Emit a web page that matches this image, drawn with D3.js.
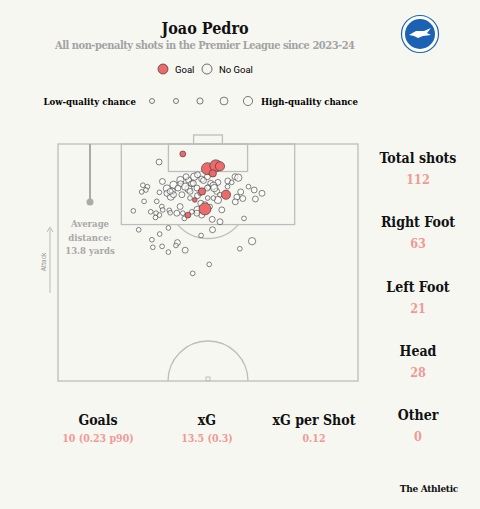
<!DOCTYPE html><html><head><meta charset="utf-8">
<script src="https://cdn.jsdelivr.net/npm/d3@7"></script>
<style>body{margin:0;background:#f7f7f2}</style></head><body>
<svg id="c" width="480" height="509"></svg>
<script>
// shots: [x (0-100 across pitch), y (0-50 distance from goal line, half pitch), xG]
const goals = [[41.6,2.1,0.05],[49.8,5.2,0.4],[52.6,4.6,0.4],[54.0,4.7,0.2],[51.6,6.2,0.1],[48.0,10.0,0.1],[56.0,10.7,0.2],[45.6,11.8,0.02],[49.0,13.7,0.4],[43.3,15.0,0.05]];
const noGoals = [[33.7,3.8,0.05],[34.8,7.9,0.05],[28.3,8.7,0.02],[29.8,9.0,0.02],[29.3,9.7,0.02],[27.9,10.1,0.02],[33.8,10.2,0.02],[36.3,9.4,0.1],[38.5,8.6,0.1],[38.1,9.9,0.05],[37.6,11.1,0.1],[38.5,10.7,0.05],[40.8,7.6,0.1],[40.9,8.4,0.05],[40.0,9.3,0.05],[43.5,7.6,0.05],[44.5,8.4,0.05],[43.5,9.5,0.1],[44.0,10.0,0.05],[45.4,6.9,0.1],[46.5,6.5,0.05],[47.9,7.4,0.05],[49.8,6.9,0.05],[48.5,7.7,0.05],[50.9,8.3,0.05],[53.3,8.1,0.05],[51.8,8.8,0.1],[52.9,10.0,0.05],[52.1,9.3,0.1],[50.1,9.1,0.02],[56.6,7.8,0.05],[57.9,8.1,0.02],[59.0,6.9,0.05],[60.1,7.1,0.1],[56.5,9.0,0.02],[63.5,9.0,0.02],[60.9,10.1,0.05],[65.4,9.7,0.05],[68.0,10.4,0.05],[59.6,11.2,0.05],[61.6,11.5,0.05],[59.1,12.2,0.05],[65.8,11.6,0.05],[53.3,11.8,0.1],[51.8,11.4,0.02],[49.9,11.4,0.02],[47.6,12.5,0.05],[46.5,10.9,0.05],[47.4,10.4,0.02],[46.5,13.9,0.1],[47.9,15.0,0.05],[46.3,14.6,0.05],[28.7,12.1,0.02],[32.9,12.1,0.02],[34.6,13.2,0.02],[34.9,13.9,0.02],[25.1,14.1,0.02],[30.9,14.3,0.02],[32.7,14.6,0.02],[33.8,15.0,0.02],[32.5,15.5,0.02],[37.1,14.0,0.02],[37.4,14.5,0.02],[39.6,14.6,0.05],[40.7,13.2,0.05],[41.6,14.6,0.02],[42.1,15.7,0.02],[44.6,14.3,0.02],[54.6,13.9,0.05],[51.4,15.9,0.05],[54.0,16.4,0.05],[62.0,15.7,0.02],[26.9,18.1,0.02],[36.8,17.7,0.02],[33.9,19.0,0.02],[31.3,20.2,0.02],[31.6,21.8,0.02],[34.7,21.6,0.02],[39.8,20.8,0.05],[39.3,21.4,0.02],[42.4,22.4,0.05],[36.8,22.8,0.02],[47.7,19.3,0.02],[51.5,18.1,0.05],[64.7,20.5,0.1],[60.6,22.1,0.02],[50.4,25.4,0.02],[44.9,27.3,0.02],[49.8,9.3,0.05],[45.1,8.3,0.05],[36.3,10.4,0.05],[42.4,9.0,0.1],[41.3,10.7,0.05],[54.0,10.7,0.02],[49.0,12.8,0.05],[50.7,13.2,0.02],[42.7,6.9,0.05],[46.3,9.3,0.05],[44.0,11.4,0.02],[37.4,10.0,0.05]];
const legendXG = [0.02,0.05,0.1,0.2,0.3];
const statLabels = ["Total shots","Right Foot","Left Foot","Head","Other"];
const statValues = ["112","63","21","28","0"];
const bottomLabels = ["Goals","xG","xG per Shot"];
const bottomValues = ["10 (0.23 p90)","13.5 (0.3)","0.12"];
const avgDistance = 13.8;

const svg = d3.select("#c");
const serif = "'DejaVu Serif Condensed', 'DejaVu Serif', serif", sans = "Roboto, 'Noto Sans', sans-serif";
const red = "#ec6a6a", pink = "#f09a96", line = "#bdbdbd";
svg.append("rect").attr("width",480).attr("height",509).attr("fill","#f7f7f2");
const x = d3.scaleLinear([0,100],[58,358]);
const y = d3.scaleLinear([0,50],[144,381]);
const r = d3.scaleSqrt([0,0.4],[1.3,6]);

svg.append("text").attr("x",205).attr("y",34).attr("text-anchor","middle").attr("font-family",serif).attr("font-weight","bold").attr("font-size",16).attr("fill","#111").text("Joao Pedro");
svg.append("text").attr("x",205).attr("y",49).attr("text-anchor","middle").attr("font-family",serif).attr("font-weight","bold").attr("font-size",11).attr("fill","#a3a3a3").attr("textLength",300).text("All non-penalty shots in the Premier League since 2023-24");
const lg = svg.append("g").attr("transform","translate(420,34)");
lg.append("circle").attr("r",18.5).attr("fill","#fff").attr("stroke","#1b62b5").attr("stroke-width",1.2);
lg.append("circle").attr("r",15).attr("fill","#1b62b5");
lg.append("path").attr("d","M-11,1 L-4,-3 L4,-3 L11,-6 L7,-1 L11,1 L3,2 L-2,4 L-6,2 Z").attr("fill","#fff");
svg.append("circle").attr("cx",163).attr("cy",69).attr("r",5).attr("fill",red).attr("stroke","#333").attr("stroke-width",0.7);
svg.append("text").attr("x",175).attr("y",72.5).attr("font-family",sans).attr("font-size",9.5).text("Goal");
svg.append("circle").attr("cx",207).attr("cy",69).attr("r",5).attr("fill","none").attr("stroke","#333").attr("stroke-width",0.7);
svg.append("text").attr("x",219).attr("y",72.5).attr("font-family",sans).attr("font-size",9.5).text("No Goal");
svg.append("text").attr("x",136).attr("y",105).attr("text-anchor","end").attr("font-family",serif).attr("font-weight","bold").attr("font-size",9.5).text("Low-quality chance");
svg.append("text").attr("x",261).attr("y",105).attr("font-family",serif).attr("font-weight","bold").attr("font-size",9.5).text("High-quality chance");
const lx = d3.scalePoint(legendXG,[152,248]);
svg.selectAll(".lc").data(legendXG).join("circle").attr("cx",d=>lx(d)).attr("cy",101).attr("r",d=>Math.max(2.5,r(d)*0.85)).attr("fill","none").attr("stroke","#444").attr("stroke-width",0.7);

const p = svg.append("g").attr("fill","none").attr("stroke",line).attr("stroke-width",1.3);
p.append("rect").attr("x",x(0)).attr("y",y(0)).attr("width",x(100)-x(0)).attr("height",y(50)-y(0));
p.append("rect").attr("x",x(21.1)).attr("y",y(0)).attr("width",x(78.9)-x(21.1)).attr("height",y(17)-y(0));
p.append("rect").attr("x",x(36.8)).attr("y",y(0)).attr("width",x(63.2)-x(36.8)).attr("height",y(5.8)-y(0));
p.append("rect").attr("x",x(45.2)).attr("y",y(0)-9).attr("width",x(54.8)-x(45.2)).attr("height",9);
const arcR = 40, spotY = y(11.5), boxY = y(17);
const dy = boxY-spotY, ang = Math.acos(dy/arcR);
p.append("path").attr("transform",`translate(${x(50)},${spotY})`).attr("d",d3.arc().innerRadius(arcR).outerRadius(arcR).startAngle(Math.PI-ang).endAngle(Math.PI+ang)());
p.append("path").attr("transform",`translate(${x(50)},${y(50)})`).attr("d",d3.arc().innerRadius(arcR).outerRadius(arcR).startAngle(-Math.PI/2).endAngle(Math.PI/2)());
svg.append("circle").attr("cx",x(50)).attr("cy",spotY).attr("r",0.9).attr("fill",line);
svg.append("rect").attr("x",x(50)-2).attr("y",y(50)-4).attr("width",4).attr("height",4).attr("fill","none").attr("stroke",line);

const ax = 90;
const avgY = y(0)+ (202-144)*(avgDistance/13.8);
svg.append("line").attr("x1",ax).attr("x2",ax).attr("y1",y(0)).attr("y2",avgY).attr("stroke","#aaa").attr("stroke-width",2);
svg.append("circle").attr("cx",ax).attr("cy",avgY).attr("r",3.5).attr("fill","#aaa");
["Average","distance:",avgDistance+" yards"].forEach((t,i)=>svg.append("text").attr("x",ax).attr("y",227+i*13.5).attr("text-anchor","middle").attr("font-family",serif).attr("font-weight","bold").attr("font-size",9.5).attr("fill","#a8a8a8").text(t));
svg.append("line").attr("x1",50).attr("x2",50).attr("y1",293).attr("y2",229).attr("stroke","#aaa").attr("stroke-width",0.8);
svg.append("path").attr("d","M47,232 L50,227 L53,232").attr("fill","none").attr("stroke","#aaa").attr("stroke-width",0.8);
svg.append("text").attr("transform","translate(46,262) rotate(-90)").attr("text-anchor","middle").attr("font-family",sans).attr("font-size",6.5).attr("fill","#999").text("Attack");

const all = noGoals.map(d=>({d,g:false})).concat(goals.map(d=>({d,g:true})));
svg.selectAll(".s").data(all).join("circle").attr("cx",o=>x(o.d[0])).attr("cy",o=>y(o.d[1])).attr("r",o=>r(o.d[2]))
 .attr("fill",o=>o.g?red:"#fff").attr("fill-opacity",o=>o.g?1:0.6).attr("stroke","#333").attr("stroke-width",0.6);

statLabels.forEach((t,i)=>{
  const yy = 163+i*64.3;
  svg.append("text").attr("x",418).attr("y",yy).attr("text-anchor","middle").attr("font-family",serif).attr("font-weight","bold").attr("font-size",14).attr("fill","#111").text(t);
  svg.append("text").attr("x",418).attr("y",yy+21).attr("text-anchor","middle").attr("font-family",serif).attr("font-weight","bold").attr("font-size",12.5).attr("fill",pink).text(statValues[i]);
});
const bx=[98,207,314];
bottomLabels.forEach((t,i)=>{
  svg.append("text").attr("x",bx[i]).attr("y",425).attr("text-anchor","middle").attr("font-family",serif).attr("font-weight","bold").attr("font-size",14).attr("fill","#111").text(t);
  svg.append("text").attr("x",bx[i]).attr("y",442).attr("text-anchor","middle").attr("font-family",serif).attr("font-weight","bold").attr("font-size",10.5).attr("fill",pink).text(bottomValues[i]);
});
svg.append("text").attr("x",458).attr("y",492).attr("text-anchor","end").attr("font-family",serif).attr("font-weight","bold").attr("font-size",10).attr("letter-spacing",-0.3).attr("fill","#111").text("The Athletic");
</script></body></html>
